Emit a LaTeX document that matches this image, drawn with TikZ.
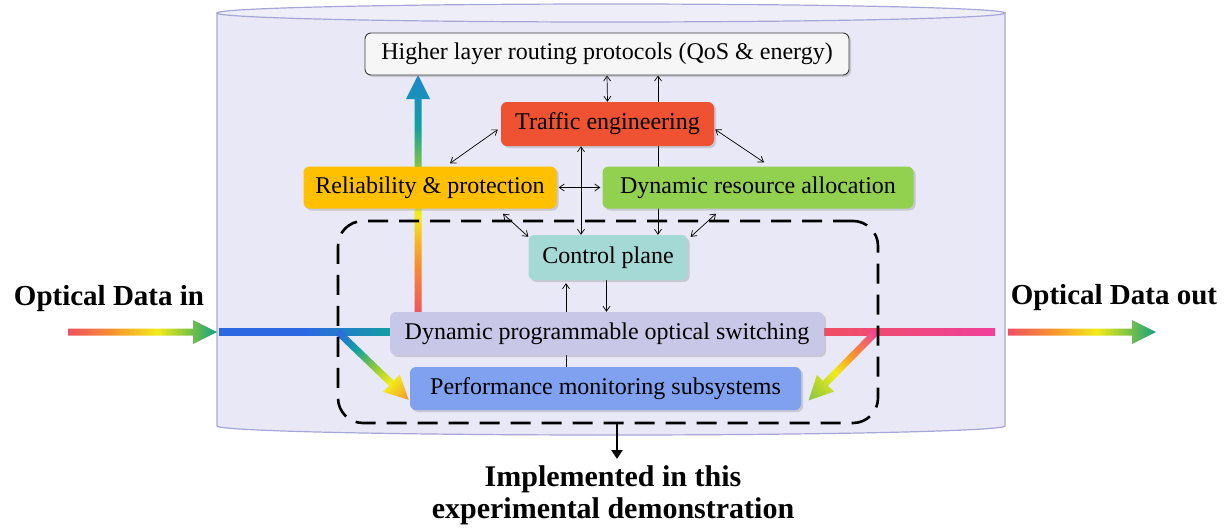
\documentclass[tikz,border=0pt]{standalone}
\usepackage{fontspec}
\setmainfont{Liberation Serif}
\usetikzlibrary{calc,shadows,arrows.meta}

\definecolor{cylfill}{HTML}{E8E8F6}
\definecolor{cyltop}{HTML}{EEEEF9}
\definecolor{cylline}{HTML}{A6A6D8}
\definecolor{hlwhite}{HTML}{F6F6F6}
\definecolor{hlborder}{HTML}{3C3C3C}
\definecolor{trafred}{HTML}{EF5233}
\definecolor{relyellow}{HTML}{FFC000}
\definecolor{dragreen}{HTML}{92D050}
\definecolor{ctrlteal}{HTML}{A5D9D6}
\definecolor{switchlav}{HTML}{C8C7E8}
\definecolor{monblue}{HTML}{80A1F0}
\definecolor{rbred}{HTML}{EF4F62}
\definecolor{rborange}{HTML}{F7932F}
\definecolor{rbyellow}{HTML}{F2EC1A}
\definecolor{rbgreen}{HTML}{86C540}
\definecolor{rbteal}{HTML}{12A082}
\definecolor{rbblue}{HTML}{2C68E2}
\definecolor{rbcyan}{HTML}{12A0A0}
\definecolor{rbsky}{HTML}{1E86CC}
\definecolor{rbpink}{HTML}{F0409A}

\pgfdeclarehorizontalshading{inray}{100bp}{color(0bp)=(rbred); color(25bp)=(rbred); color(40bp)=(rborange); color(55bp)=(rbyellow); color(65bp)=(rbgreen); color(75bp)=(rbteal); color(100bp)=(rbteal)}
\pgfdeclarehorizontalshading{upray}{100bp}{color(0bp)=(rbred); color(28bp)=(rbred); color(39bp)=(rborange); color(48bp)=(rbyellow); color(57bp)=(rbgreen); color(65bp)=(rbcyan); color(75bp)=(rbsky); color(100bp)=(rbsky)}
\pgfdeclarehorizontalshading{downray}{100bp}{color(0bp)=(rbblue); color(25bp)=(rbblue); color(38bp)=(rbcyan); color(50bp)=(rbgreen); color(62bp)=(rbyellow); color(75bp)=(rborange); color(100bp)=(rborange)}
\pgfdeclarehorizontalshading{outray}{100bp}{color(0bp)=(rbpink); color(25bp)=(rbpink); color(42bp)=(rborange); color(55bp)=(rbyellow); color(75bp)=(rbgreen); color(100bp)=(rbgreen)}
\pgfdeclarehorizontalshading{bluebeam}{100bp}{color(0bp)=(rbblue); color(25bp)=(rbblue); color(50bp)=(rbblue); color(75bp)=(rbcyan); color(100bp)=(rbcyan)}
\pgfdeclarehorizontalshading{redbeam}{100bp}{color(0bp)=(rbred); color(25bp)=(rbred); color(75bp)=(rbpink); color(100bp)=(rbpink)}

\pgfdeclarelayer{bg}
\pgfdeclarelayer{rays}
\pgfsetlayers{bg,rays,main}

% thick light path with a head: start, angle, length, shading
\newcommand{\rayarrow}[4]{%
  \begin{scope}[transform canvas={shift={#1}, rotate=#2}]
    \shade[shading=#4] (0,-3.5) -- ({#3-24},-3.5) -- ({#3-24},-12) -- (#3,0)
      -- ({#3-24},12) -- ({#3-24},3.5) -- (0,3.5) -- cycle;
  \end{scope}}
% thick light path without a head
\newcommand{\raybeam}[4]{%
  \begin{scope}[transform canvas={shift={#1}, rotate=#2}]
    \shade[shading=#4] (0,-3.5) rectangle (#3,3.5);
  \end{scope}}

\tikzset{
  box/.style={rounded corners=6pt, minimum height=42pt, inner sep=0pt,
    font=\fontsize{24}{26}\selectfont,
    drop shadow={shadow xshift=2pt, shadow yshift=-2pt, opacity=0.3}},
  link/.style={{Straight Barb[length=5pt,width=7pt]}-{Straight Barb[length=5pt,width=7pt]}, line width=0.7pt},
  uplink/.style={-{Straight Barb[length=5pt,width=7pt]}, line width=0.7pt},
  frame/.style={draw, line width=2.6pt, dash pattern=on 20pt off 11pt, rounded corners=25pt},
  bigtext/.style={font=\bfseries\fontsize{29}{32}\selectfont, inner sep=0pt}
}

\begin{document}
\begin{tikzpicture}[x=1pt, y=-1pt]
  \useasboundingbox (0,0) rectangle (1232,531);

  % cylinder
  \begin{pgfonlayer}{bg}
    \filldraw[fill=cylfill, draw=cylline, line width=1.2pt]
      (217,13) -- (217,426) arc[start angle=180, end angle=0, x radius=394, y radius=9]
      -- (1005,13) -- cycle;
    \filldraw[fill=cyltop, draw=cylline, line width=1.2pt] (611,13) ellipse[x radius=394, y radius=9];
  \end{pgfonlayer}

  % blocks
  \node[box, fill=hlwhite, draw=hlborder, line width=0.9pt, minimum width=484pt] (higher) at (607,54)
    {Higher layer routing protocols (QoS \& energy)};
  \node[box, fill=trafred, minimum width=213pt, minimum height=44pt] (traffic) at (607.5,124) {Traffic engineering};
  \node[box, fill=relyellow, minimum width=253pt] (relia) at (430,187.5) {Reliability \& protection};
  \node[box, fill=dragreen, minimum width=311pt] (dra) at (758,187.5) {Dynamic resource allocation};
  \node[box, fill=ctrlteal, minimum width=159pt, minimum height=45pt] (ctrl) at (608,257.5) {Control plane};
  \node[box, fill=switchlav, minimum width=434pt, minimum height=43pt] (switch) at (607,333.5)
    {Dynamic programmable optical switching};
  \node[box, fill=monblue, minimum width=391pt, minimum height=43pt] (monitor) at (605.5,388.5)
    {Performance monitoring subsystems};

  \node[frame, minimum width=540pt, minimum height=202pt] (frame) at (608,322) {};

  % labels
  \node[bigtext, anchor=base] (datain) at (109,305) {Optical Data in};
  \node[bigtext, anchor=base] (dataout) at (1114,304) {Optical Data out};
  \node[bigtext, font=\bfseries\fontsize{30}{32}\selectfont, align=center, anchor=north] (impl) at (613,465)
    {Implemented in this\\experimental demonstration};

  % light paths
  \begin{pgfonlayer}{rays}
    \rayarrow{(68,332)}{0}{149}{inray}
    \raybeam{(219,332)}{0}{175}{bluebeam}
    \rayarrow{(418,333)}{90}{258}{upray}
    \rayarrow{(338,332)}{-43.8}{98}{downray}
    \raybeam{(822,332)}{0}{173}{redbeam}
    \rayarrow{(876,332)}{-134.6}{96}{outray}
    \rayarrow{(1008,332)}{0}{148}{inray}
  \end{pgfonlayer}

  % control links
  \begin{pgfonlayer}{rays}
    \draw[link] (higher.south) -- (traffic.north);
    \draw[link] ($(higher.south)+(51,0)$) -- ($(ctrl.north)+(50,0)$);
    \draw[link] ($(traffic.south)+(-26.5,0)$) -- ($(ctrl.north)+(-27,0)$);
    \draw[link] ($(traffic.west)+(-3,5.5)$) -- ($(relia.north)+(20,-3)$);
    \draw[link] ($(traffic.east)+(1,5.5)$) -- ($(dra.north)+(6,-4)$);
    \draw[link, shorten <=2pt, shorten >=2pt] (relia.east) -- (dra.west);
    \draw[link] ($(relia.south)+(73,5)$) -- ($(ctrl.north west)+(0,2)$);
    \draw[link] ($(dra.south)+(-42,5)$) -- ($(ctrl.north east)+(3,2)$);
    \coordinate (upx) at ($(monitor.north)+(-39.5,0)$);
    \draw[uplink] (upx) -- ($(upx |- ctrl.south)+(0,3)$);
    \coordinate (downx) at ($(ctrl.south)+(-1.5,0)$);
    \draw[uplink] (downx) -- (downx |- switch.north);
  \end{pgfonlayer}

  \coordinate (implx) at ($(frame.south)+(9,0)$);
  \draw[line width=2.5pt, -{Triangle[length=9pt,width=11pt]}] (implx) -- ($(implx |- impl.north)+(0,-6)$);
\end{tikzpicture}
\end{document}
